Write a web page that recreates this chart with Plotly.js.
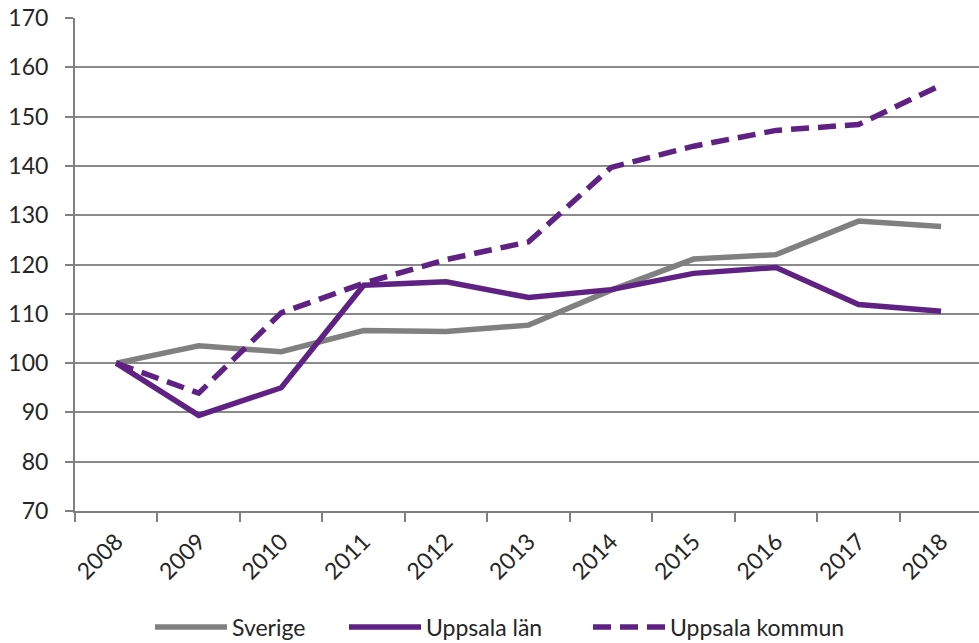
<!DOCTYPE html>
<html>
<head>
<meta charset="utf-8">
<script src="https://cdn.plot.ly/plotly-3.0.1.min.js"></script>
<style>html,body{margin:0;padding:0;background:#fff;}</style>
</head>
<body>
<div id="chart" style="width:979px;height:643px;"></div>
<script>
const years = ["2008","2009","2010","2011","2012","2013","2014","2015","2016","2017","2018"];
const sverige = [100, 103.5, 102.3, 106.6, 106.4, 107.7, 114.8, 121.1, 122.0, 128.8, 127.7];
const uppsalaLan = [100, 89.4, 95.0, 115.8, 116.5, 113.3, 114.9, 118.2, 119.4, 111.9, 110.5];
const uppsalaKommun = [100, 93.9, 110.2, 116.2, 121.0, 124.6, 139.7, 144.0, 147.2, 148.4, 156.4];
const seriesNames = ["Sverige", "Uppsala län", "Uppsala kommun"];
const yTicks = [70, 80, 90, 100, 110, 120, 130, 140, 150, 160, 170];

const gray = "#808080";
const purple = "#5f2284";
const textColor = "#262626";
const fontFam = "Lato, 'Open Sans', sans-serif";

const traces = [
  {x: years, y: sverige, name: seriesNames[0], type: "scatter", mode: "lines",
   line: {color: gray, width: 5.5}, legend: "legend"},
  {x: years, y: uppsalaLan, name: seriesNames[1], type: "scatter", mode: "lines",
   line: {color: purple, width: 5.5}, legend: "legend2"},
  {x: years, y: uppsalaKommun, name: seriesNames[2], type: "scatter", mode: "lines",
   line: {color: purple, width: 5.5, dash: "18px,9px"}, legend: "legend3"}
];

function legendAt(xpx) {
  return {orientation: "h", xref: "container", yref: "container",
          x: xpx / 979, xanchor: "left", y: (643 - 627) / 643, yanchor: "middle",
          font: {family: fontFam, size: 23, color: textColor}, itemwidth: 72,
          bgcolor: "rgba(0,0,0,0)"};
}

const layout = {
  width: 979, height: 643,
  margin: {l: 75, r: 0, t: 18, b: 132},
  paper_bgcolor: "#ffffff", plot_bgcolor: "#ffffff",
  font: {family: fontFam, size: 23, color: textColor},
  showlegend: true,
  legend: legendAt(150),
  legend2: legendAt(344),
  legend3: legendAt(588),
  xaxis: {
    type: "category", range: [-0.5, 10.46],
    tickangle: -45, ticks: "outside", tickson: "boundaries", ticklen: 9,
    tickcolor: gray, tickwidth: 2,
    showline: true, linecolor: gray, linewidth: 2,
    showgrid: false, zeroline: false,
    ticklabelstandoff: 6,
    tickfont: {family: fontFam, size: 23, color: textColor},
    automargin: false, fixedrange: true
  },
  yaxis: {
    range: [70, 170], tickvals: yTicks, ticktext: yTicks.map(String),
    ticks: "outside", ticklen: 8, tickcolor: gray, tickwidth: 2,
    showline: true, linecolor: gray, linewidth: 2,
    showgrid: true, gridcolor: "#8a8a8a", gridwidth: 2, zeroline: false,
    ticklabelstandoff: 12,
    tickfont: {family: fontFam, size: 23, color: textColor},
    automargin: false, fixedrange: true
  }
};

Plotly.newPlot("chart", traces, layout, {displayModeBar: false, staticPlot: true});
</script>
</body>
</html>
